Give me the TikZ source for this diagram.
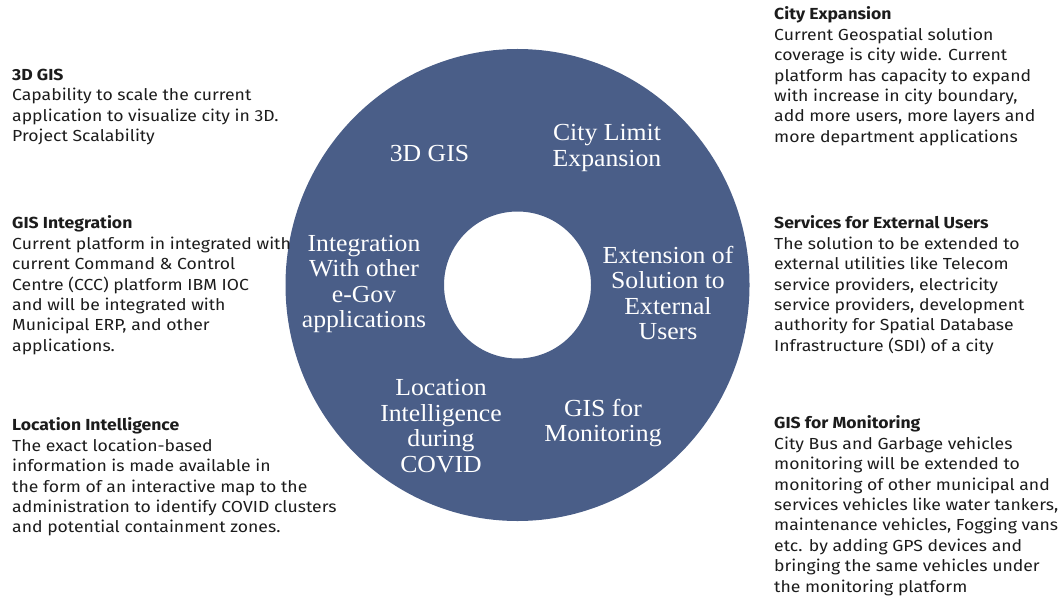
\documentclass[tikz,border=0pt]{standalone}
\usepackage{fontspec}
\setmainfont{Fira Sans}[FakeStretch=1.1]
\newfontfamily\ringfont{Liberation Serif}[FakeStretch=1.05]
\definecolor{ringblue}{HTML}{4A5E88}
\definecolor{txt}{HTML}{1C1C1C}
\begin{document}
\begin{tikzpicture}[x=1pt,y=-1pt,
  sidetext/.style={anchor=north west,inner sep=0pt,align=left,text=txt,
    font=\fontsize{16}{20.45}\selectfont},
  ringtext/.style={align=center,text=white,inner sep=0pt,
    font=\ringfont\fontsize{24.5}{25.6}\selectfont}]
\useasboundingbox (0,0) rectangle (1064,596);
% ring
\fill[ringblue,even odd rule] (517.5,285) ellipse [x radius=232,y radius=236]
  (517.5,285) circle [radius=73.5];
% ring labels
\node[ringtext] (r3d) at (429.5,154) {3D GIS};
\node[ringtext] (rcity) at (607,148) {City Limit\\Expansion};
\node[ringtext] (rint) at (364,284) {Integration\\With other\\e-Gov\\applications};
\node[ringtext] (rext) at (668,293) {Extension of\\Solution to\\External\\Users};
\node[ringtext] (rloc) at (441,426) {Location\\Intelligence\\during\\COVID};
\node[ringtext] (rmon) at (603,423) {GIS for\\Monitoring};
% side texts
\def\fl{\rule{0pt}{12pt}}
\node[sidetext] (t3d) at (12,68) {\fl\textbf{3D GIS}\\Capability to scale the current\\application to visualize city in 3D.\\Project Scalability};
\node[sidetext] (tint) at (12,215.5) {\fl\textbf{GIS Integration}\\Current platform in integrated with\\current Command \& Control\\Centre (CCC) platform IBM IOC\\and will be integrated with\\Municipal ERP, and other\\applications.};
\node[sidetext] (tloc) at (12,417.5) {\fl\textbf{Location Intelligence}\\The exact location-based\\information is made available in\\the form of an interactive map to the\\administration to identify COVID clusters\\and potential containment zones.};
\node[sidetext] (tcity) at (774,6.5) {\fl\textbf{City Expansion}\\Current Geospatial solution\\coverage is city wide. Current\\platform has capacity to expand\\with increase in city boundary,\\add more users, more layers and\\more department applications};
\node[sidetext] (text) at (774,215.5) {\fl\textbf{Services for External Users}\\The solution to be extended to\\external utilities like Telecom\\service providers, electricity\\service providers, development\\authority for Spatial Database\\Infrastructure (SDI) of a city};
\node[sidetext] (tmon) at (774,415.5) {\fl\textbf{GIS for Monitoring}\\City Bus and Garbage vehicles\\monitoring will be extended to\\monitoring of other municipal and\\services vehicles like water tankers,\\maintenance vehicles, Fogging vans\\etc. by adding GPS devices and\\bringing the same vehicles under\\the monitoring platform};
\end{tikzpicture}
\end{document}
